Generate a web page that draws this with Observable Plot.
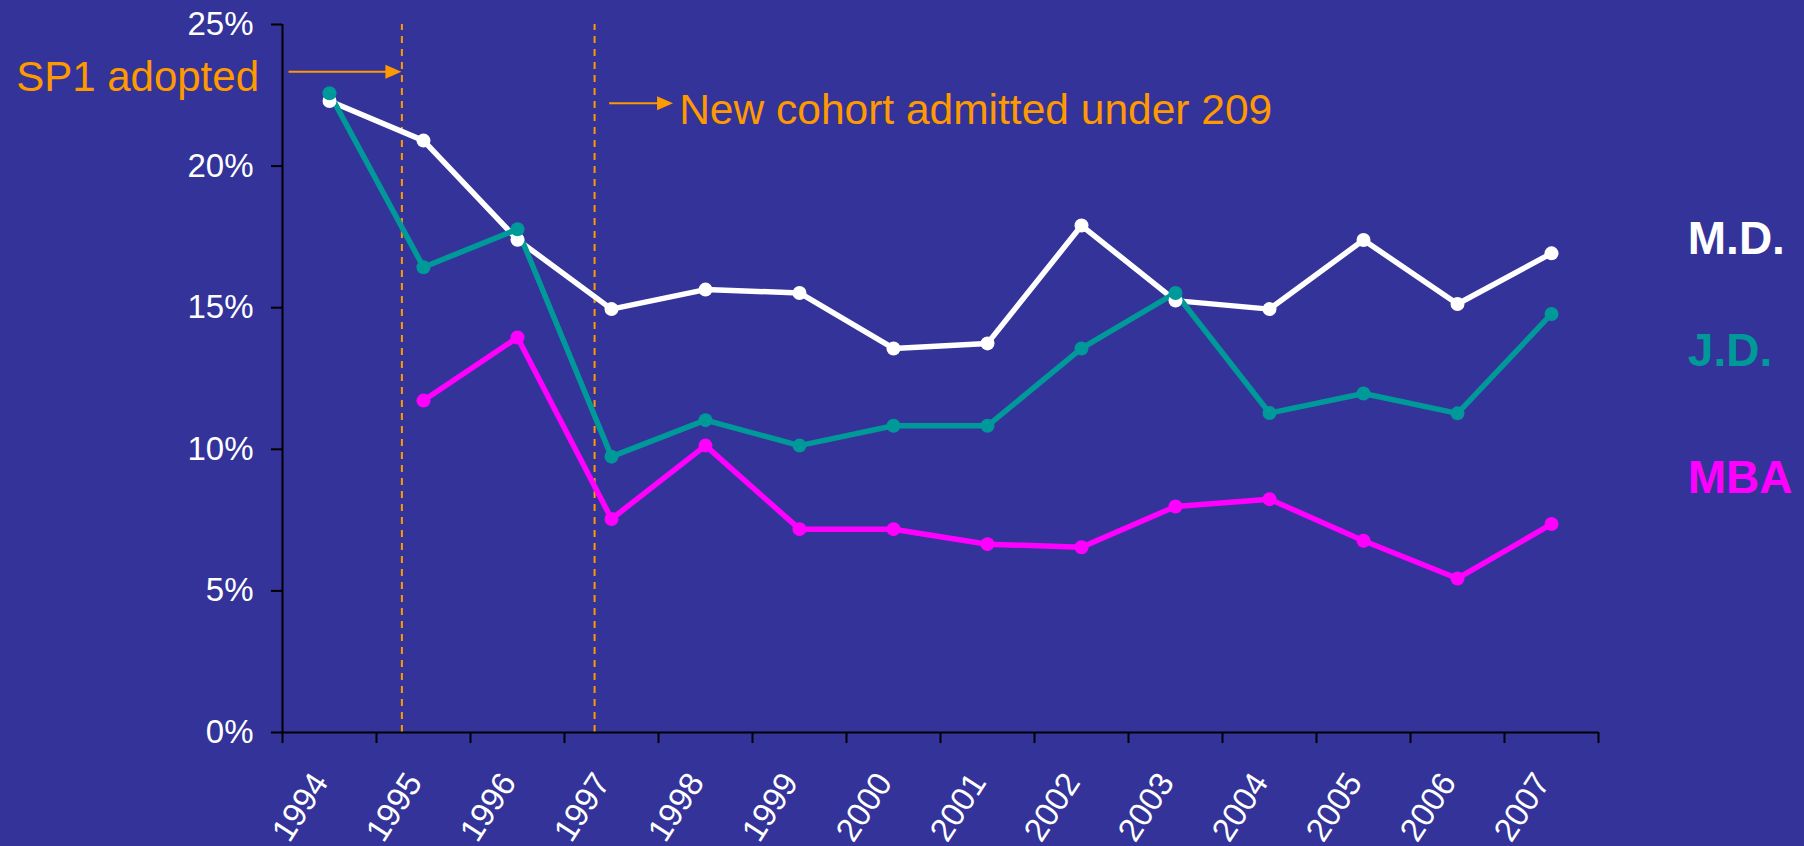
<!DOCTYPE html>
<html>
<head>
<meta charset="utf-8">
<script src="https://cdn.jsdelivr.net/npm/d3@7"></script>
<script src="https://cdn.jsdelivr.net/npm/@observablehq/plot@0.6"></script>
<style>
  html, body { margin: 0; padding: 0; background: #333399; overflow: hidden; }
  #chart svg { display: block; }
</style>
</head>
<body>
<div id="chart"></div>
<script>
// ---- data ----
const years = [1994, 1995, 1996, 1997, 1998, 1999, 2000, 2001, 2002, 2003, 2004, 2005, 2006, 2007];
const md  = [22.3, 20.9, 17.4, 14.95, 15.64, 15.52, 13.56, 13.74, 17.9, 15.25, 14.95, 17.39, 15.13, 16.92];
const jd  = [22.57, 16.43, 17.77, 9.74, 11.03, 10.13, 10.83, 10.83, 13.56, 15.52, 11.28, 11.97, 11.27, 14.78];
const mba = [null, 11.72, 13.95, 7.54, 10.13, 7.18, 7.18, 6.65, 6.54, 7.98, 8.24, 6.77, 5.44, 7.36];
const seriesNames = ["M.D.", "J.D.", "MBA"];
const seriesColors = ["#ffffff", "#009999", "#ff00ff"];
const yTicks = [0, 5, 10, 15, 20, 25];
const eventYears = [1994.77, 1996.82];
const annotationLabels = ["SP1 adopted", "New cohort admitted under 209"];

// ---- tables built from the arrays ----
const seriesValues = [md, jd, mba];
const data = seriesNames.flatMap((name, s) =>
  years.map((year, i) => ({year, value: seriesValues[s][i], series: name}))
).filter(d => d.value != null);

const boundaries = years.map(y => y - 0.5).concat([years[years.length - 1] + 0.5]);

// annotation layout (positions in data units)
const arrows = [
  {x1: 1993.57, x2: eventYears[0], y: 23.31},
  {x1: 1996.98, x2: 1997.66, y: 22.2}
];
const noteLeft = [{label: annotationLabels[0], x: 1993.25, y: 23.12}];
const noteRight = [{label: annotationLabels[1], x: 1997.72, y: 21.98}];
const legendItems = [
  {label: seriesNames[0], y: 17.4},
  {label: seriesNames[1], y: 13.45},
  {label: seriesNames[2], y: 8.96}
];

const arrowMark = (index, scales) => {
  const g = d3.create("svg:g");
  for (const a of arrows) {
    const x1 = scales.x(a.x1), x2 = scales.x(a.x2), y = scales.y(a.y);
    g.append("line").attr("x1", x1).attr("x2", x2 - 14).attr("y1", y).attr("y2", y)
      .attr("stroke", "#ff9900").attr("stroke-width", 2);
    g.append("path").attr("d", `M${x2},${y}L${x2 - 16},${y - 7}L${x2 - 16},${y + 7}Z`)
      .attr("fill", "#ff9900");
  }
  return g.node();
};

const chart = Plot.plot({
  width: 1804,
  height: 846,
  marginLeft: 282,
  marginRight: 206,
  marginTop: 24,
  marginBottom: 114,
  style: {background: "#333399", fontFamily: "'Liberation Sans', Arial, sans-serif", overflow: "visible"},
  x: {type: "linear", domain: [boundaries[0], boundaries[boundaries.length - 1]], axis: null},
  y: {domain: [0, 25], axis: null},
  color: {domain: seriesNames, range: seriesColors},
  marks: [
    Plot.ruleX(eventYears, {y1: 0, y2: 25, stroke: "#ff9900", strokeWidth: 2, strokeDasharray: "7,6"}),
    // axes lines
    Plot.ruleX([boundaries[0]], {stroke: "black", strokeWidth: 2}),
    Plot.ruleY([0], {stroke: "black", strokeWidth: 2}),
    // y ticks and labels
    Plot.axisY({ticks: yTicks, tickSize: 11, tickFormat: () => "", color: "black", strokeWidth: 2}),
    Plot.axisY({ticks: yTicks, tickSize: 0, tickPadding: 29, tickFormat: d => d + "%", color: "white", fontSize: 33}),
    // x ticks at band boundaries, labels at year centres
    Plot.axisX({ticks: boundaries, tickSize: 11, tickFormat: () => "", color: "black", strokeWidth: 2}),
    Plot.text(years, {x: d => d, y: 0, text: d => String(d), rotate: -57, textAnchor: "end", lineAnchor: "top",
      dx: -20, dy: 37, fill: "white", fontSize: 33}),
    // series
    Plot.lineY(data, {x: "year", y: "value", z: "series", stroke: "series", strokeWidth: 5.5}),
    Plot.dot(data, {x: "year", y: "value", fill: "series", r: 7}),
    // annotations
    arrowMark,
    Plot.text(noteLeft, {x: "x", y: "y", text: "label", textAnchor: "end", fill: "#ff9900", fontSize: 42}),
    Plot.text(noteRight, {x: "x", y: "y", text: "label", textAnchor: "start", fill: "#ff9900", fontSize: 42.5}),
    // legend labels at the right
    Plot.text(legendItems, {x: 2008.45, y: "y", text: "label", textAnchor: "start", fill: "label", fontSize: 46, fontWeight: "bold"})
  ]
});
document.getElementById("chart").appendChild(chart);
</script>
</body>
</html>
